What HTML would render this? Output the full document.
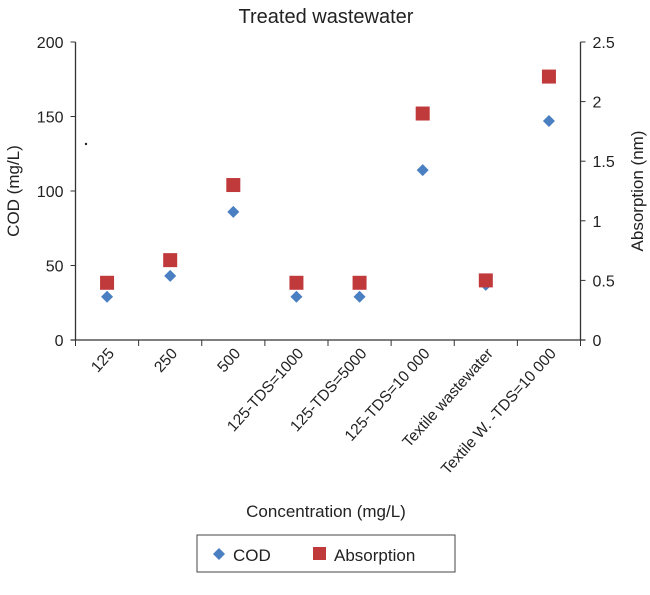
<!DOCTYPE html>
<html><head><meta charset="utf-8">
<style>
body{margin:0;background:#fff;font-family:"Liberation Sans",sans-serif;}
svg text{font-family:"Liberation Sans",sans-serif;fill:#222;}
</style></head>
<body>
<svg width="650" height="590" viewBox="0 0 650 590">
<text x="326" y="23" font-size="20" text-anchor="middle">Treated wastewater</text>
<g id="axes"></g>
<g id="marks"></g>
<text transform="translate(19,191) rotate(-90)" font-size="17" text-anchor="middle">COD (mg/L)</text>
<text transform="translate(643,191) rotate(-90)" font-size="17" text-anchor="middle">Absorption (nm)</text>
<text x="326" y="517" font-size="17" text-anchor="middle">Concentration (mg/L)</text>
<circle cx="86" cy="144" r="1.2" fill="#222"/>
<g>
<rect x="197" y="535" width="258" height="37" fill="#fff" stroke="#444" stroke-width="1"/>
<path d="M219 548 L225 554 L219 560 L213 554 Z" fill="#4a7fc1"/>
<text x="233" y="561" font-size="17">COD</text>
<rect x="313" y="547" width="13" height="13" fill="#c0393b"/>
<text x="334" y="561" font-size="17">Absorption</text>
</g>
</svg>
<script>
const categories=["125","250","500","125-TDS=1000","125-TDS=5000","125-TDS=10 000","Textile wastewater","Textile W. -TDS=10 000"];
const codValues=[29,43,86,29,29,114,37,147];
const absValues=[0.48,0.67,1.30,0.48,0.48,1.90,0.50,2.21];
const leftTicks=[0,50,100,150,200];
const rightTicks=[0,0.5,1,1.5,2,2.5];
const NS="http://www.w3.org/2000/svg";
const X0=75.5,X1=580.5,Y0=340,Y1=42;
const bw=(X1-X0)/categories.length;
const xc=i=>X0+bw*(i+0.5);
const yL=v=>Y0-(v/200)*(Y0-Y1);
const yR=v=>Y0-(v/2.5)*(Y0-Y1);
const axes=document.getElementById('axes'),marks=document.getElementById('marks');
function mk(tag,attrs,parent){const e=document.createElementNS(NS,tag);for(const k in attrs)e.setAttribute(k,attrs[k]);parent.appendChild(e);return e;}
const la=mk('line',{x1:X0,y1:Y1,x2:X0,y2:Y0,stroke:'#333','stroke-width':1.3},axes);


const ra=mk('line',{x1:X1,y1:Y1,x2:X1,y2:Y0,stroke:'#333','stroke-width':1.3},axes);


const xa=mk('line',{x1:X0-5,y1:Y0,x2:X1+5,y2:Y0,stroke:'#333','stroke-width':1.3},axes);


leftTicks.forEach(t=>{const y=yL(t);
mk('line',{x1:X0-5,y1:y,x2:X0,y2:y,stroke:'#333'},axes);
const tx=mk('text',{x:X0-12,y:y+6,'font-size':16,'text-anchor':'end'},axes);tx.textContent=t;

});
rightTicks.forEach(t=>{const y=yR(t);
mk('line',{x1:X1,y1:y,x2:X1+5,y2:y,stroke:'#333'},axes);
const tx=mk('text',{x:X1+12,y:y+6,'font-size':16},axes);tx.textContent=t;

});
for(let i=0;i<=categories.length;i++){const x=X0+bw*i;mk('line',{x1:x,y1:Y0,x2:x,y2:Y0+6,stroke:'#333'},axes);}
categories.forEach((c,i)=>{const x=xc(i)+8,y=Y0+14;
const tx=mk('text',{x:x,y:y,'font-size':15.5,'text-anchor':'end',transform:`rotate(-48 ${x} ${y})`},axes);tx.textContent=c;

});
codValues.forEach((v,i)=>{const x=xc(i),y=yL(v);
const p=mk('path',{d:`M${x} ${y-6} L${x+6} ${y} L${x} ${y+6} L${x-6} ${y} Z`,fill:'#4a7fc1'},marks);

});
absValues.forEach((v,i)=>{const x=xc(i),y=yR(v);
const r=mk('rect',{x:x-7,y:y-7,width:14,height:14,fill:'#c0393b'},marks);

});
</script>
</body></html>
